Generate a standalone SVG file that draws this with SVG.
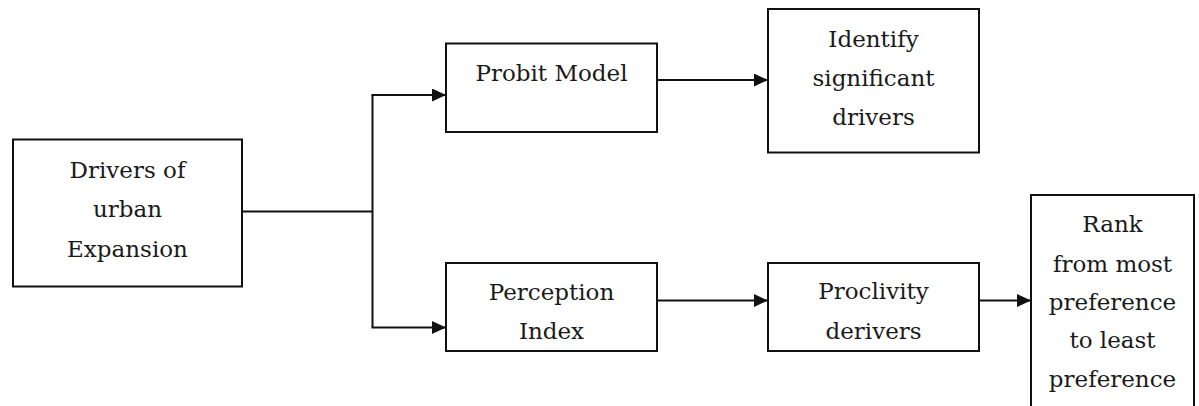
<svg xmlns="http://www.w3.org/2000/svg" width="1199" height="406" viewBox="0 0 1199 406">
<style>
.box{fill:#fff;stroke:#111;stroke-width:2}
.t{font-family:'DejaVu Serif','Liberation Serif',serif;font-size:23px;fill:#1a1a1a;text-anchor:middle}
.c{fill:none;stroke:#111;stroke-width:2}
</style>
<defs>
<marker id="ah" markerWidth="14" markerHeight="13" refX="14" refY="6.5" orient="auto" markerUnits="userSpaceOnUse">
<path d="M0,0 L14,6.5 L0,13 Z" fill="#111"/>
</marker>
</defs>
<rect width="1199" height="406" fill="#fff"/>
<g id="connectors">
<path class="c" d="M242,211.5 H372.5"/>
<path class="c" d="M372.5,95 V327.5"/>
<path class="c" d="M371.5,95 H446" marker-end="url(#ah)"/>
<path class="c" d="M371.5,327.5 H446" marker-end="url(#ah)"/>
<path class="c" d="M657,80 H768" marker-end="url(#ah)"/>
<path class="c" d="M657,300.5 H768" marker-end="url(#ah)"/>
<path class="c" d="M979,300.5 H1031" marker-end="url(#ah)"/>
</g>
<g id="drivers">
<rect class="box" x="13" y="139.5" width="229" height="147"/>
<text class="t" x="127.5" y="178">Drivers of</text>
<text class="t" x="127.5" y="217">urban</text>
<text class="t" x="127.5" y="257">Expansion</text>
</g>
<g id="probit">
<rect class="box" x="446" y="43.5" width="211" height="88.5"/>
<text class="t" x="551.5" y="81">Probit Model</text>
</g>
<g id="identify">
<rect class="box" x="768" y="9" width="211" height="143.5"/>
<text class="t" x="873.5" y="47">Identify</text>
<text class="t" x="873.5" y="86">significant</text>
<text class="t" x="873.5" y="125">drivers</text>
</g>
<g id="perception">
<rect class="box" x="446" y="263" width="211" height="88"/>
<text class="t" x="551.5" y="300">Perception</text>
<text class="t" x="551.5" y="339">Index</text>
</g>
<g id="proclivity">
<rect class="box" x="768" y="263" width="211" height="88"/>
<text class="t" x="873.5" y="299">Proclivity</text>
<text class="t" x="873.5" y="339">derivers</text>
</g>
<g id="rank">
<rect class="box" x="1031" y="195" width="163" height="230"/>
<text class="t" x="1112.5" y="232">Rank</text>
<text class="t" x="1112.5" y="272">from most</text>
<text class="t" x="1112.5" y="310">preference</text>
<text class="t" x="1112.5" y="348">to least</text>
<text class="t" x="1112.5" y="387">preference</text>
</g>
</svg>
